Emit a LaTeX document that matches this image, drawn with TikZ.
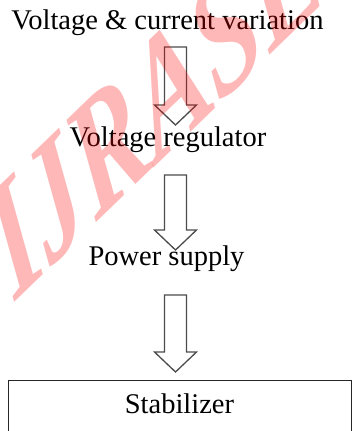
\documentclass[tikz,border=0pt]{standalone}
\usepackage{fontspec}
\setmainfont{Liberation Serif}
\usetikzlibrary{calc}

\tikzset{
  flowtext/.style={font=\fontsize{28.5}{34}\selectfont, inner sep=0pt, anchor=base},
  flowbox/.style={draw=black!85, line width=1.2pt, minimum width=343pt, minimum height=70pt, inner sep=0pt, anchor=north west},
  arrowline/.style={draw=black!70, line width=1.3pt, fill=white, line join=miter},
  watermark/.style={font=\fontsize{128}{128}\selectfont\bfseries\itshape, text=red, opacity=0.28, inner sep=0pt, cm={0.719,0.695,-0.469,1.105,(0,0)}, anchor=base west}
}
\newcommand{\hollowarrow}[2]{%
  \draw[arrowline] let \p1=(#1), \p2=(#2) in
    (\x1-11pt,\y1) -- (\x1+11pt,\y1) -- (\x1+11pt,\y2+20pt) -- (\x1+21pt,\y2+20pt)
    -- (\x2,\y2) -- (\x1-21pt,\y2+20pt) -- (\x1-11pt,\y2+20pt) -- cycle;}

\begin{document}
\begin{tikzpicture}[x=1pt, y=-1pt]
    \useasboundingbox (0,0) rectangle (352,431);
    \clip (0,0) rectangle (352,431);
    \fill[white] (0,0) rectangle (352,431);

    % Stages
    \node[flowtext] (variation) at (167.5,29) {Voltage \& current variation};
    \node[flowtext] (regulator) at (168,146) {Voltage regulator};
    \node[flowtext] (supply) at (166.5,265) {Power supply};
    \node[flowbox] (stabbox) at (8,380) {};
    \node[flowtext] (stabilizer) at (179.5,413) {Stabilizer};

    % Arrow ends
    \coordinate (a1s) at (175.5,47);  \coordinate (a1e) at (175.5,125);
    \coordinate (a2s) at (175.5,175); \coordinate (a2e) at (175.5,250);
    \coordinate (a3s) at (175.5,295); \coordinate (a3e) at (175.5,372);

    % Hollow arrows
    \hollowarrow{a1s}{a1e}
    \hollowarrow{a2s}{a2e}
    \hollowarrow{a3s}{a3e}

    % Watermark
    \node[watermark] (wm) at (15,302) {IJRASET};
\end{tikzpicture}
\end{document}
